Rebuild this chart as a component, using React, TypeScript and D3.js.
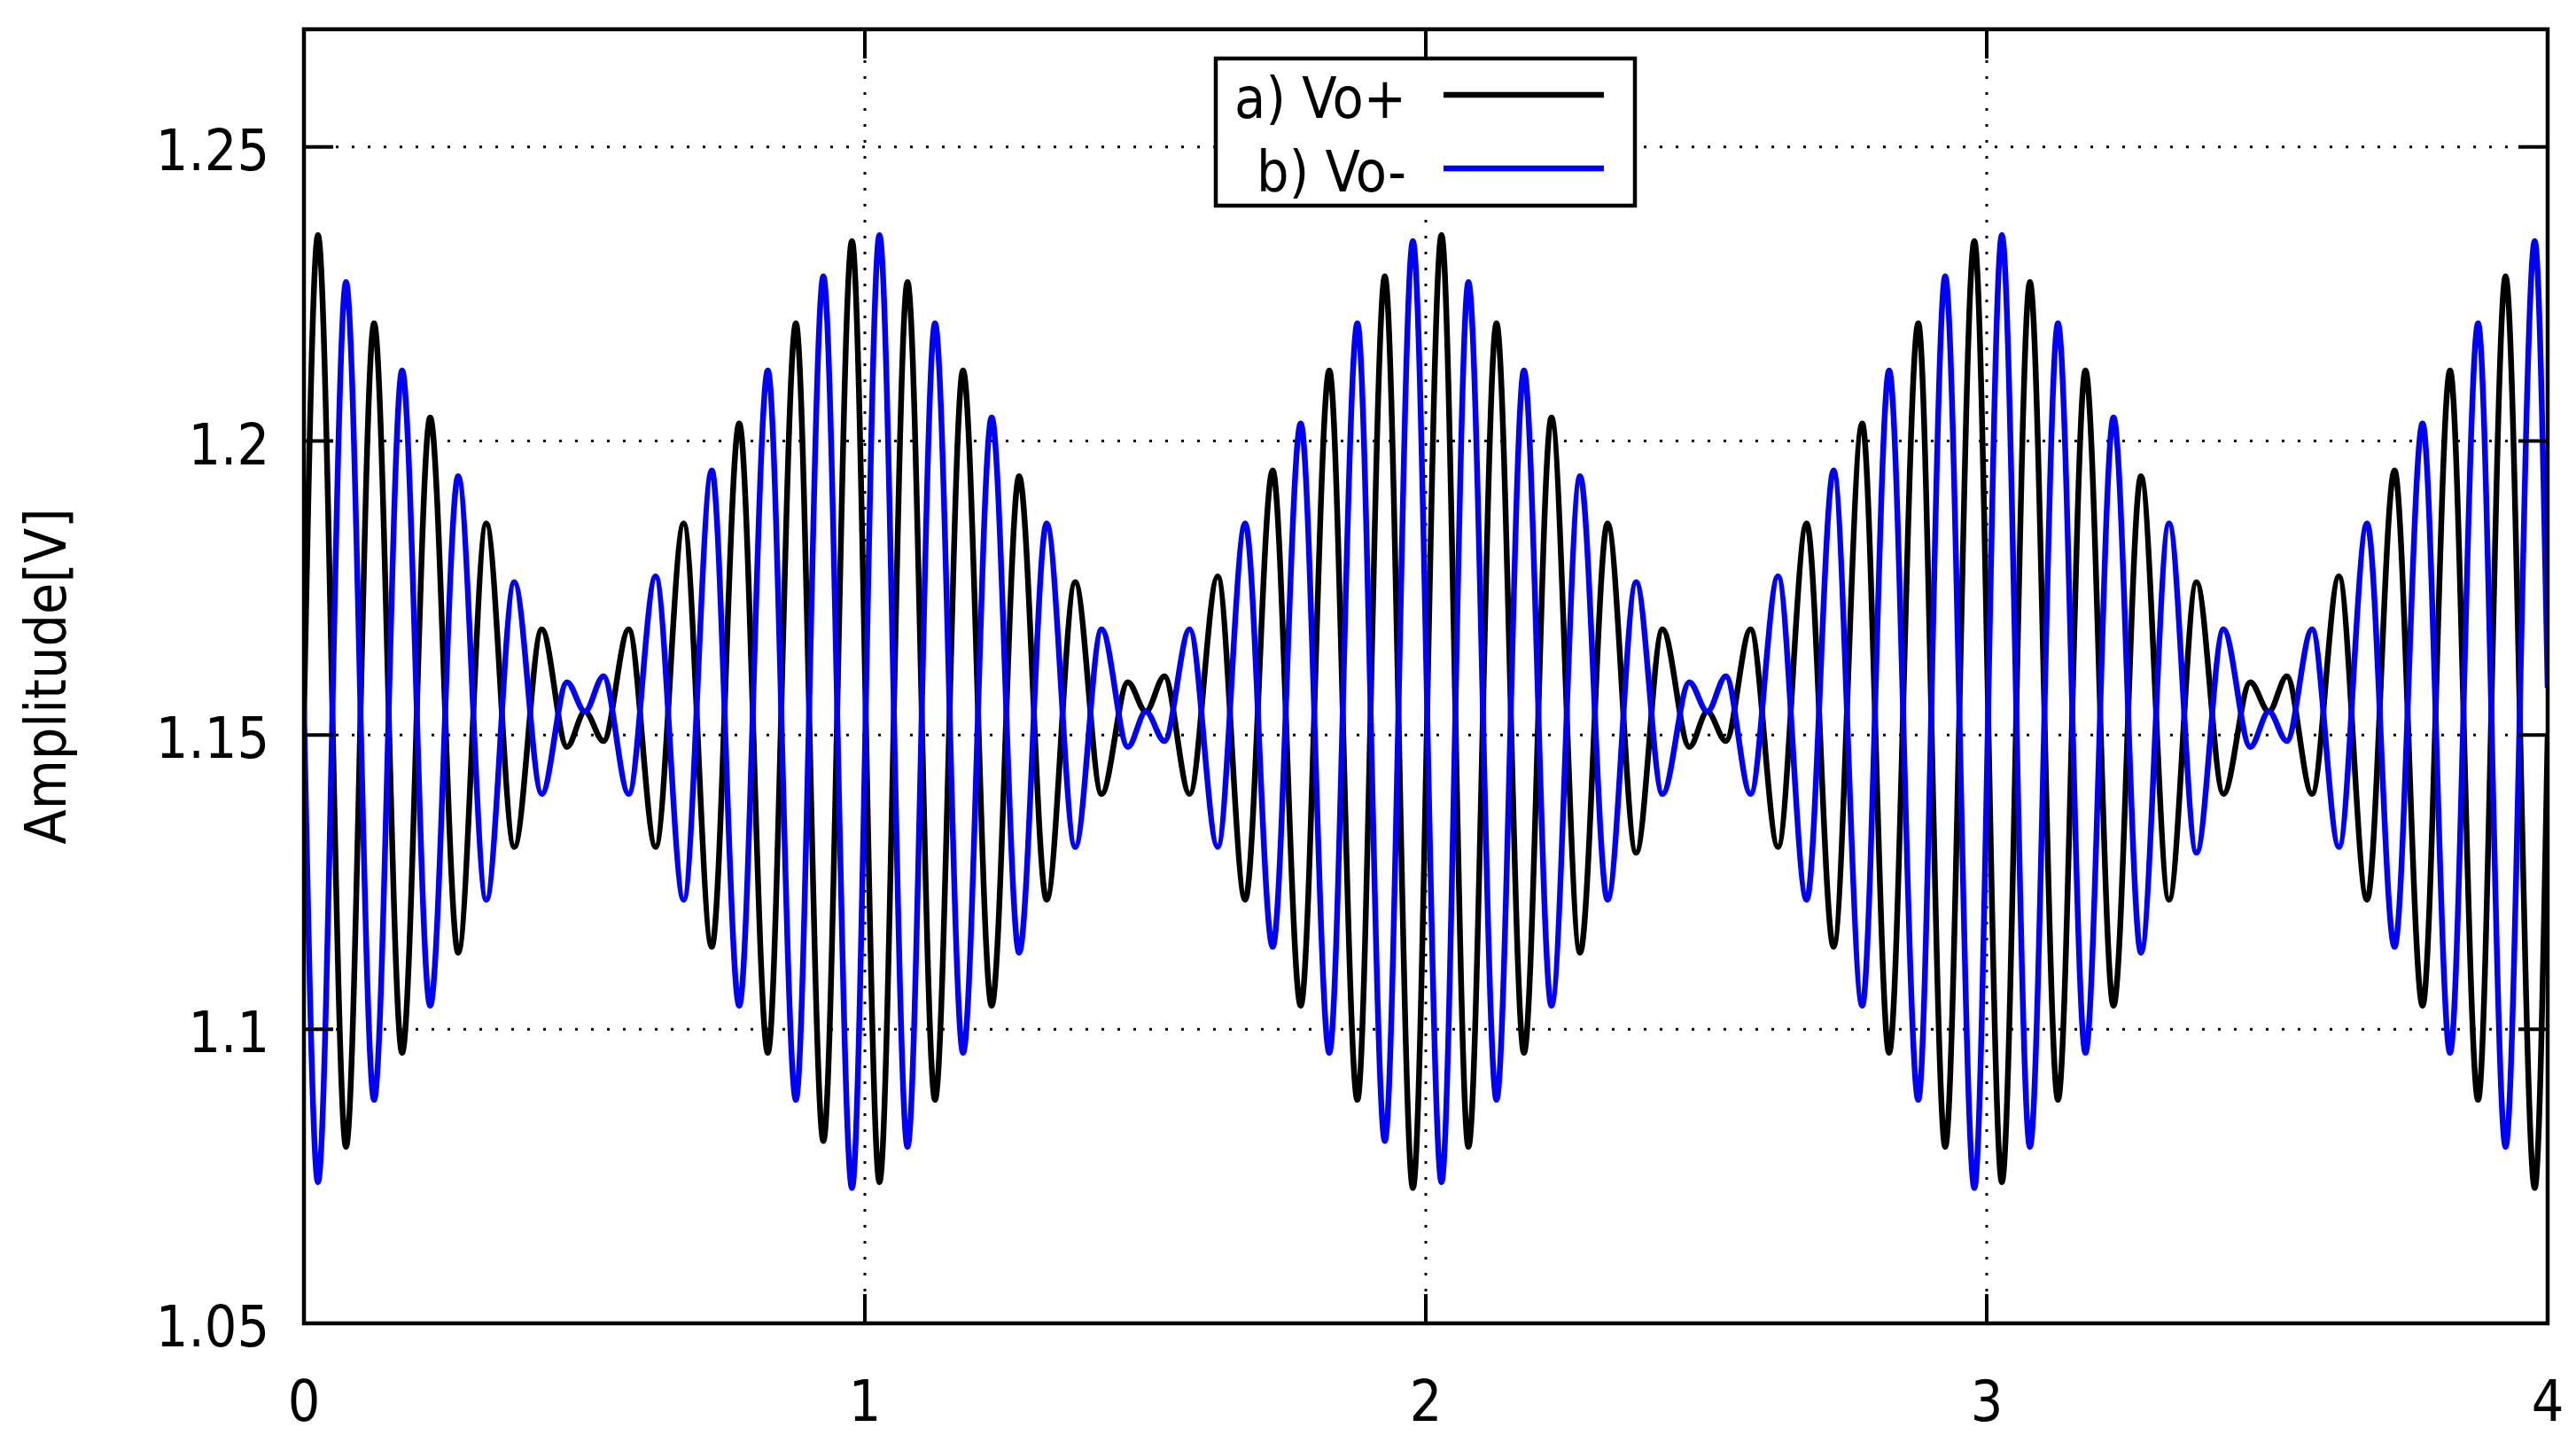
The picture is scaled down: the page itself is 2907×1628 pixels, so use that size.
import React, { useEffect, useRef } from "react";
import * as d3 from "d3";

// extrema (time in the x units, value in V)
const timeS = [
  0,
  0.025, 0.075, 0.125, 0.175, 0.225, 0.275, 0.325, 0.375, 0.424, 0.469, 0.501,
  0.534, 0.579, 0.627, 0.677, 0.727, 0.776, 0.827, 0.877, 0.926, 0.977,
  1.026, 1.076, 1.125, 1.175, 1.226, 1.275, 1.324, 1.375, 1.422, 1.469, 1.501,
  1.534, 1.579, 1.629, 1.678, 1.727, 1.777, 1.828, 1.878, 1.927, 1.977,
  2.028, 2.076, 2.126, 2.175, 2.224, 2.275, 2.324, 2.375, 2.422, 2.470, 2.502,
  2.535, 2.579, 2.628, 2.679, 2.727, 2.778, 2.826, 2.878, 2.926, 2.978,
  3.027, 3.077, 3.127, 3.176, 3.226, 3.275, 3.325, 3.374, 3.422, 3.470, 3.503,
  3.535, 3.580, 3.628, 3.678, 3.727, 3.777, 3.826, 3.876, 3.925, 3.977,
  4.0,
];

const voPlus = [
  1.153,
  1.235, 1.080, 1.220, 1.096, 1.204, 1.113, 1.186, 1.131, 1.168, 1.148, 1.154,
  1.149, 1.168, 1.131, 1.186, 1.114, 1.203, 1.096, 1.220, 1.081, 1.234,
  1.074, 1.227, 1.088, 1.212, 1.104, 1.194, 1.122, 1.176, 1.140, 1.159, 1.154,
  1.160, 1.140, 1.177, 1.122, 1.195, 1.104, 1.212, 1.088, 1.228, 1.073,
  1.235, 1.080, 1.220, 1.096, 1.204, 1.113, 1.186, 1.130, 1.168, 1.148, 1.154,
  1.149, 1.168, 1.131, 1.186, 1.114, 1.203, 1.096, 1.220, 1.080, 1.234,
  1.074, 1.227, 1.088, 1.212, 1.104, 1.194, 1.122, 1.176, 1.140, 1.159, 1.154,
  1.160, 1.140, 1.177, 1.122, 1.195, 1.104, 1.212, 1.088, 1.228, 1.073,
  1.150,
];

const voMinus = [
  1.155,
  1.074, 1.227, 1.088, 1.212, 1.104, 1.194, 1.122, 1.176, 1.140, 1.159, 1.154,
  1.160, 1.140, 1.177, 1.122, 1.195, 1.104, 1.212, 1.088, 1.228, 1.073,
  1.235, 1.080, 1.220, 1.096, 1.204, 1.113, 1.186, 1.131, 1.168, 1.148, 1.154,
  1.149, 1.168, 1.131, 1.186, 1.114, 1.203, 1.096, 1.220, 1.081, 1.234,
  1.074, 1.227, 1.088, 1.212, 1.104, 1.194, 1.122, 1.176, 1.140, 1.159, 1.154,
  1.160, 1.140, 1.177, 1.122, 1.195, 1.104, 1.212, 1.088, 1.228, 1.073,
  1.235, 1.080, 1.220, 1.096, 1.204, 1.113, 1.186, 1.130, 1.168, 1.148, 1.154,
  1.149, 1.168, 1.131, 1.186, 1.114, 1.203, 1.096, 1.220, 1.080, 1.234,
  1.158,
];

const xTicks = [0, 1, 2, 3, 4];
const yTicks = [1.05, 1.1, 1.15, 1.2, 1.25];
const yTickLabels = ["1.05", "1.1", "1.15", "1.2", "1.25"];
const seriesNames = ["a) Vo+", "b) Vo-"];
const seriesColors = ["#000000", "#0000ff"];

const W = 2907;
const H = 1628;
const FONT = "'DejaVu Sans Condensed', 'DejaVu Sans', sans-serif";

function App() {
  const ref = useRef<SVGSVGElement>(null);

  useEffect(() => {
    const margin = { left: 343, right: 32, top: 33, bottom: 135 };
    const x = d3.scaleLinear().domain([0, 4]).range([margin.left, W - margin.right]);
    const y = d3.scaleLinear().domain([1.05, 1.27]).range([H - margin.bottom, margin.top]);

    const svg = d3.select(ref.current);
    svg.selectAll("*").remove();

    svg.append("rect").attr("width", W).attr("height", H).attr("fill", "white");

    svg.append("clipPath").attr("id", "plotclip")
      .append("rect")
      .attr("x", x(0)).attr("y", y(1.27))
      .attr("width", x(4) - x(0)).attr("height", y(1.05) - y(1.27));

    // dotted grid
    const grid = svg.append("g")
      .attr("stroke", "#000")
      .attr("stroke-width", 3)
      .attr("stroke-dasharray", "3 15");
    grid.selectAll("line.gx")
      .data(xTicks.slice(1, -1))
      .join("line")
      .attr("class", "gx")
      .attr("x1", d => x(d)).attr("x2", d => x(d))
      .attr("y1", y(1.05)).attr("y2", y(1.27));
    grid.selectAll("line.gy")
      .data(yTicks.slice(1))
      .join("line")
      .attr("class", "gy")
      .attr("x1", x(0)).attr("x2", x(4))
      .attr("y1", d => y(d)).attr("y2", d => y(d));

    // waveforms
    const line = d3.line<number>()
      .x((_, i) => x(timeS[i]))
      .y(d => y(d))
      .curve(d3.curveMonotoneX);

    const curves = svg.append("g").attr("clip-path", "url(#plotclip)");
    [voPlus, voMinus].forEach((vals, k) => {
      curves.append("path")
        .attr("d", line(vals))
        .attr("fill", "none")
        .attr("stroke", seriesColors[k])
        .attr("stroke-width", 6.5)
        .attr("stroke-linejoin", "round");
    });

    // ticks (inward, mirrored)
    const tickLen = 33;
    const ticks = svg.append("g").attr("stroke", "#000").attr("stroke-width", 4);
    xTicks.forEach(t => {
      ticks.append("line").attr("x1", x(t)).attr("x2", x(t))
        .attr("y1", y(1.05)).attr("y2", y(1.05) - tickLen);
      ticks.append("line").attr("x1", x(t)).attr("x2", x(t))
        .attr("y1", y(1.27)).attr("y2", y(1.27) + tickLen);
    });
    yTicks.forEach(t => {
      ticks.append("line").attr("x1", x(0)).attr("x2", x(0) + tickLen)
        .attr("y1", y(t)).attr("y2", y(t));
      ticks.append("line").attr("x1", x(4)).attr("x2", x(4) - tickLen)
        .attr("y1", y(t)).attr("y2", y(t));
    });

    // legend
    const leg = svg.append("g");
    leg.append("rect")
      .attr("x", 1372).attr("y", 66)
      .attr("width", 473).attr("height", 166)
      .attr("fill", "white")
      .attr("stroke", "#000")
      .attr("stroke-width", 4.5);
    seriesNames.forEach((name, i) => {
      const cy = 107 + i * 83;
      leg.append("text")
        .attr("x", 1587).attr("y", cy + 26)
        .attr("text-anchor", "end")
        .attr("font-family", FONT)
        .attr("font-size", 64)
        .attr("fill", "#000")
        .text(name);
      leg.append("line")
        .attr("x1", 1629).attr("x2", 1810)
        .attr("y1", cy).attr("y2", cy)
        .attr("stroke", seriesColors[i])
        .attr("stroke-width", 6.5);
    });

    // frame
    svg.append("rect")
      .attr("x", x(0)).attr("y", y(1.27))
      .attr("width", x(4) - x(0)).attr("height", y(1.05) - y(1.27))
      .attr("fill", "none")
      .attr("stroke", "#000")
      .attr("stroke-width", 4.5);

    // tick labels
    svg.append("g").selectAll("text")
      .data(xTicks)
      .join("text")
      .attr("x", d => x(d))
      .attr("y", 1603)
      .attr("text-anchor", "middle")
      .attr("font-family", FONT)
      .attr("font-size", 64)
      .text(d => String(d));

    svg.append("g").selectAll("text")
      .data(yTicks)
      .join("text")
      .attr("x", 304)
      .attr("y", d => y(d) + 26)
      .attr("text-anchor", "end")
      .attr("font-family", FONT)
      .attr("font-size", 64)
      .text((_, i) => yTickLabels[i]);

    svg.append("text")
      .attr("transform", `translate(52, ${(y(1.05) + y(1.27)) / 2}) rotate(-90)`)
      .attr("text-anchor", "middle")
      .attr("dy", "0.35em")
      .attr("font-family", FONT)
      .attr("font-size", 64)
      .text("Amplitude[V]");
  }, []);

  return (
    <svg
      ref={ref}
      width={W}
      height={H}
      style={{ position: "absolute", left: 0, top: 0 }}
    />
  );
}

export default App;
